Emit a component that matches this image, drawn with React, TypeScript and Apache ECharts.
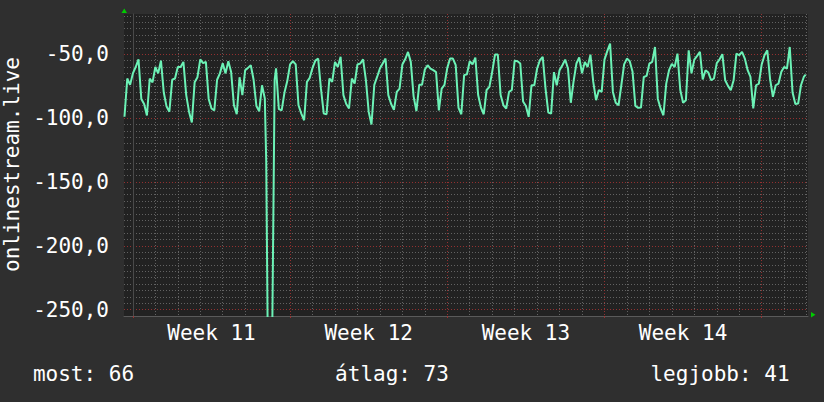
import React, { useEffect, useRef } from 'react';
import * as echarts from 'echarts';

// Time in hours since Monday 00:00 of Week 11
const hours = [
  -9, -6, -3, 0, 3, 6, 9, 12, 15, 18, 21, 24, 27, 30, 33, 36, 39, 42, 45, 48,
  51, 54, 57, 60, 63, 66, 69, 72, 75, 78, 81, 84, 87, 90, 93, 96, 99, 102, 105, 108,
  111, 114, 117, 120, 123, 126, 129, 132, 135, 138, 141, 142.5, 144, 149, 150, 151.5, 153, 156, 159, 162,
  165, 168, 171, 174, 177, 180, 183, 186, 189, 192, 195, 198, 201, 204, 207, 210, 213, 216, 219, 222,
  225, 228, 231, 234, 237, 240, 243, 246, 249, 252, 255, 258, 261, 264, 267, 270, 273, 276, 279, 282,
  285, 288, 291, 294, 297, 300, 303, 306, 309, 312, 315, 318, 321, 324, 327, 330, 333, 336, 339, 342,
  345, 348, 351, 354, 357, 360, 363, 366, 369, 372, 375, 378, 381, 384, 387, 390, 393, 396, 399, 402,
  405, 408, 411, 414, 417, 420, 423, 426, 429, 432, 435, 438, 441, 444, 447, 450, 453, 456, 459, 462,
  465, 468, 471, 474, 477, 480, 483, 486, 489, 492, 495, 498, 501, 504, 507, 510, 513, 516, 519, 522,
  525, 528, 531, 534, 537, 540, 543, 546, 549, 552, 555, 558, 561, 564, 567, 570, 573, 576, 579, 582,
  585, 588, 591, 594, 597, 600, 603, 606, 609, 612, 615, 618, 621, 624, 627, 630, 633, 636, 639, 642,
  645, 648, 651, 654, 657, 660, 663, 666, 669, 672, 675, 678, 681, 684, 687, 690, 693, 696, 699, 702,
  705, 708, 711, 714, 717, 719,
];

const values = [
  -99, -69, -74, -65, -60, -54, -85, -89, -98, -69, -72, -60, -65, -55, -80, -91, -95, -70, -69, -60,
  -60, -56, -82, -95, -103.5, -72, -68, -54, -57, -56, -85, -92.5, -94, -70, -65, -57, -65, -55.5, -64, -90,
  -97, -68, -82, -62.5, -60.7, -58.6, -70, -90.5, -94.6, -74.3, -84.7, -134, -262, -262, -186, -70, -61, -93, -94, -80,
  -71, -58, -55.5, -58, -90, -96.5, -101.7, -71.7, -68.5, -60.7, -55, -53.4, -77, -96.5, -97, -69, -71.7, -56, -60, -52,
  -82, -89, -92.5, -69, -73, -58, -57.3, -54, -70, -95, -105, -74, -67.8, -61.2, -57.3, -53.4, -82, -89, -93.6, -79.5,
  -77, -58, -54, -48.2, -56, -83, -94.6, -74, -74, -62, -58.6, -61.2, -62.5, -64, -94, -77, -74, -60.7, -53.4, -53.4,
  -58.6, -92, -97, -66.4, -65.7, -55.5, -58, -52.6, -82, -91.8, -97, -78, -75.6, -63.8, -50.3, -50.3, -82, -90, -92.5, -79.5,
  -78, -55, -55.5, -57.3, -87, -90.5, -99, -74.3, -74.3, -61.2, -54.7, -52, -77, -95.7, -96.5, -64, -74.3, -62.5, -58.6, -54.2,
  -61.2, -88, -71, -57.3, -52.6, -65, -56, -60, -50.3, -71.7, -86, -78, -79.5, -54.2, -47.6, -41.6, -79.5, -88, -90, -74.3,
  -58, -53.4, -55.5, -63.8, -90.5, -92, -91.8, -67.8, -67, -57.3, -56, -44.3, -85, -92.5, -97.8, -73, -62.5, -57.6, -60, -49.5,
  -78, -88, -86, -46.9, -65, -54.2, -51.3, -48.2, -69.8, -62.5, -64.4, -70.4, -69, -57, -54, -50, -70.4, -74.8, -78.2, -70.4,
  -49.5, -50.8, -48.2, -53.4, -62.5, -67.8, -92.5, -74.3, -73, -58, -50.8, -46.9, -69.6, -83.4, -74.3, -73, -63.8, -60, -61.2, -44.3,
  -80, -88.9, -88.6, -74.3, -67.8, -66,
];

const xMin = -9.5;
const xMax = 721.5;
const yMin = -255;
const yMax = -18.5;

const dayLineHours = [
  24, 48, 72, 96, 120, 144, 192, 216, 240, 264, 288, 312, 360, 384, 408, 432, 456, 480,
  528, 552, 576, 600, 624, 648, 696, 720,
];
const weekStartHours = [0, 168, 336, 504, 672];
const weekLabelHours = [84, 252, 420, 588];
const weekLabels = ['Week 11', 'Week 12', 'Week 13', 'Week 14'];

const yMinorTicks = [
  -245, -240, -235, -230, -225, -220, -215, -210, -205,
  -195, -190, -185, -180, -175, -170, -165, -160, -155,
  -145, -140, -135, -130, -125, -120, -115, -110, -105,
  -95, -90, -85, -80, -75, -70, -65, -60, -55,
  -45, -40, -35, -30, -25, -20,
];
const yMajorTicks = [-250, -200, -150, -100, -50];

const yAxisTitle = 'onlinestream.live';
const statLabels = ['most', 'átlag', 'legjobb'];
const statValues = [66, 73, 41];

const FONT = 'DejaVu Sans Mono';
const MINOR = 'rgba(120,120,120,0.75)';
const MAJOR = 'rgba(160,50,50,0.9)';

export default function App() {
  const ref = useRef<HTMLDivElement>(null);

  useEffect(() => {
    if (!ref.current) return;
    const chart = echarts.init(ref.current, null, { renderer: 'svg' });
    const statX = [83.5, 392, 720];

    chart.setOption({
      animation: false,
      backgroundColor: '#2f2f2f',
      grid: {
        left: 124,
        right: 16,
        top: 14,
        bottom: 86,
        show: true,
        backgroundColor: '#222222',
        borderWidth: 0,
      },
      xAxis: [
        {
          type: 'value',
          min: xMin,
          max: xMax,
          axisLine: { show: true, lineStyle: { color: '#5a5a5a', width: 1 } },
          axisTick: { show: false, customValues: dayLineHours },
          axisLabel: { show: false },
          splitLine: { show: true, lineStyle: { color: MINOR, type: [1, 2], width: 1 } },
        },
        {
          type: 'value',
          min: xMin,
          max: xMax,
          position: 'bottom',
          axisLine: { show: false },
          axisTick: { show: true, customValues: weekStartHours, length: 2, lineStyle: { color: MAJOR } },
          axisLabel: {
            show: true,
            customValues: weekLabelHours,
            formatter: (v: number) => weekLabels[weekLabelHours.indexOf(v)] ?? '',
            color: '#ffffff',
            fontFamily: FONT,
            fontSize: 21,
            lineHeight: 21,
            margin: 6,
          },
          splitLine: { show: true, lineStyle: { color: MAJOR, type: [1, 2], width: 1 } },
        },
      ],
      yAxis: [
        {
          type: 'value',
          min: yMin,
          max: yMax,
          axisLine: { show: true, lineStyle: { color: '#4a4a4a', width: 1 } },
          axisTick: { show: false, customValues: yMinorTicks },
          axisLabel: { show: false },
          splitLine: { show: true, lineStyle: { color: MINOR, type: [1, 2], width: 1 } },
        },
        {
          type: 'value',
          min: yMin,
          max: yMax,
          position: 'left',
          axisLine: { show: false },
          axisTick: { show: false, customValues: yMajorTicks },
          axisLabel: {
            show: true,
            customValues: yMajorTicks,
            formatter: (v: number) => v.toFixed(1).replace('.', ','),
            color: '#ffffff',
            fontFamily: FONT,
            fontSize: 21,
            margin: 15,
          },
          splitLine: { show: true, lineStyle: { color: MAJOR, type: [1, 2], width: 1 } },
        },
      ],
      series: [
        {
          type: 'line',
          xAxisIndex: 0,
          yAxisIndex: 0,
          data: hours.map((h, i) => [h, values[i]]),
          showSymbol: false,
          symbol: 'none',
          clip: true,
          z: 5,
          lineStyle: { color: '#6cf2b6', width: 2 },
        },
      ],
      graphic: [
        {
          type: 'text',
          x: 12,
          y: 164.5,
          rotation: Math.PI / 2,
          style: {
            text: yAxisTitle,
            fill: '#ffffff',
            font: `21px "${FONT}"`,
            align: 'center',
            verticalAlign: 'middle',
          },
        },
        ...statLabels.map((l, i) => ({
          type: 'text',
          x: statX[i],
          y: 374,
          style: {
            text: `${l}: ${statValues[i]}`,
            fill: '#ffffff',
            font: `21px "${FONT}"`,
            align: 'center',
            verticalAlign: 'middle',
          },
        })),
        {
          type: 'polygon',
          shape: { points: [[121.5, 13], [127, 13], [124.25, 8.5]] },
          style: { fill: '#00cc00' },
        },
        {
          type: 'polygon',
          shape: { points: [[811, 312], [811, 317.5], [815.5, 314.75]] },
          style: { fill: '#00cc00' },
        },
      ],
    });

    return () => chart.dispose();
  }, []);

  return (
    <div
      ref={ref}
      style={{ position: 'fixed', left: 0, top: 0, width: 824, height: 402 }}
    />
  );
}
